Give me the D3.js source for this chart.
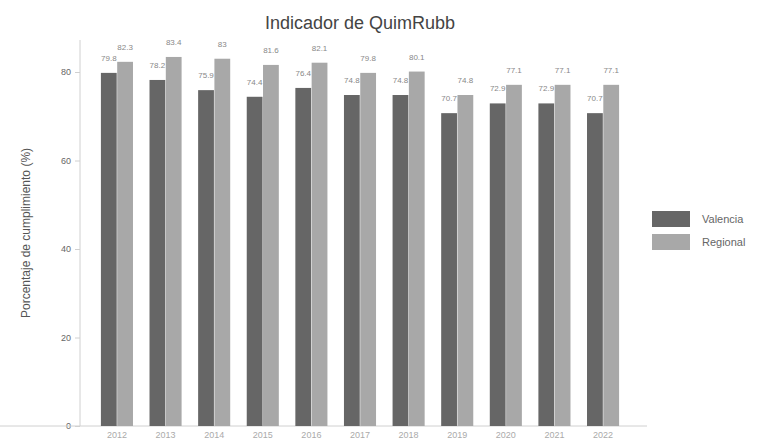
<!DOCTYPE html>
<html>
<head>
<meta charset="utf-8">
<script src="https://cdn.jsdelivr.net/npm/d3@7"></script>
<style>
  body { margin: 0; background: #fff; }
  text { font-family: "Liberation Sans", Arial, sans-serif; }
</style>
</head>
<body>
<svg></svg>
<script>
// data
const years = ["2012", "2013", "2014", "2015", "2016", "2017", "2018", "2019", "2020", "2021", "2022"];
const seriesNames = ["Valencia", "Regional"];
const valencia = [79.8, 78.2, 75.9, 74.4, 76.4, 74.8, 74.8, 70.7, 72.9, 72.9, 70.7];
const regional = [82.3, 83.4, 83.0, 81.6, 82.1, 79.8, 80.1, 74.8, 77.1, 77.1, 77.1];
const yTicks = [0, 20, 40, 60, 80];

const width = 759;
const height = 445;

const svg = d3.select("svg").attr("width", width).attr("height", height);

// scales
const x = d3.scaleBand().domain(years).range([80, 640]).paddingInner(0.32).paddingOuter(0.42);
const xSub = d3.scaleBand().domain(seriesNames).range([0, x.bandwidth()]).padding(0.03);
const y = d3.scaleLinear().domain([0, 80]).range([426, 72]);
const color = d3.scaleOrdinal().domain(seriesNames).range(["#666666", "#a8a8a8"]);

const fmt = d3.format("~");

// title
svg.append("text")
  .attr("x", 360)
  .attr("y", 29)
  .attr("text-anchor", "middle")
  .style("font-size", "18px")
  .style("fill", "#444")
  .text("Indicador de QuimRubb");

// y axis
const yAxis = d3.axisLeft(y).tickValues(yTicks).tickSize(5).tickPadding(4);
const gy = svg.append("g").attr("transform", "translate(80,0)").call(yAxis);
gy.select(".domain").attr("d", "M0,40V426").style("stroke", "#d0d0d0");
gy.selectAll(".tick line").style("stroke", "#d0d0d0");
gy.selectAll(".tick text").style("font-size", "9px").style("fill", "#666");

// y label
svg.append("text")
  .attr("transform", "translate(30,233) rotate(-90)")
  .attr("text-anchor", "middle")
  .style("font-size", "12px")
  .style("fill", "#555")
  .text("Porcentaje de cumplimiento (%)");

// x axis
const xAxis = d3.axisBottom(x).tickSize(0).tickPadding(6);
const gx = svg.append("g").attr("transform", "translate(0,426)").call(xAxis);
gx.select(".domain").attr("d", "M0,0H647").style("stroke", "#d0d0d0");
gx.selectAll(".tick text").style("font-size", "9px").style("fill", "#aaa");

// bars
const rows = years.map((yr, i) => ({ year: yr, values: [valencia[i], regional[i]] }));

const groups = svg.selectAll("g.group")
  .data(rows)
  .enter()
  .append("g")
  .attr("class", "group")
  .attr("transform", d => `translate(${x(d.year)},0)`);

groups.selectAll("rect")
  .data(d => d.values.map((v, j) => ({ name: seriesNames[j], value: v })))
  .enter()
  .append("rect")
  .attr("x", d => xSub(d.name))
  .attr("y", d => y(d.value))
  .attr("width", xSub.bandwidth())
  .attr("height", d => y(0) - y(d.value))
  .style("fill", d => color(d.name));

groups.selectAll("text.val")
  .data(d => d.values.map((v, j) => ({ name: seriesNames[j], value: v })))
  .enter()
  .append("text")
  .attr("class", "val")
  .attr("x", d => xSub(d.name) + xSub.bandwidth() / 2)
  .attr("y", d => y(d.value) - 12)
  .attr("text-anchor", "middle")
  .style("font-size", "8px")
  .style("fill", "#888")
  .text(d => fmt(d.value));

// legend
const legend = svg.selectAll("g.legend")
  .data(seriesNames)
  .enter()
  .append("g")
  .attr("class", "legend")
  .attr("transform", (d, i) => `translate(652, ${211 + i * 23})`);

legend.append("rect")
  .attr("width", 38)
  .attr("height", 16)
  .style("fill", d => color(d));

legend.append("text")
  .attr("x", 50)
  .attr("y", 12)
  .style("font-size", "11px")
  .style("fill", "#666")
  .text(d => d);
</script>
</body>
</html>
